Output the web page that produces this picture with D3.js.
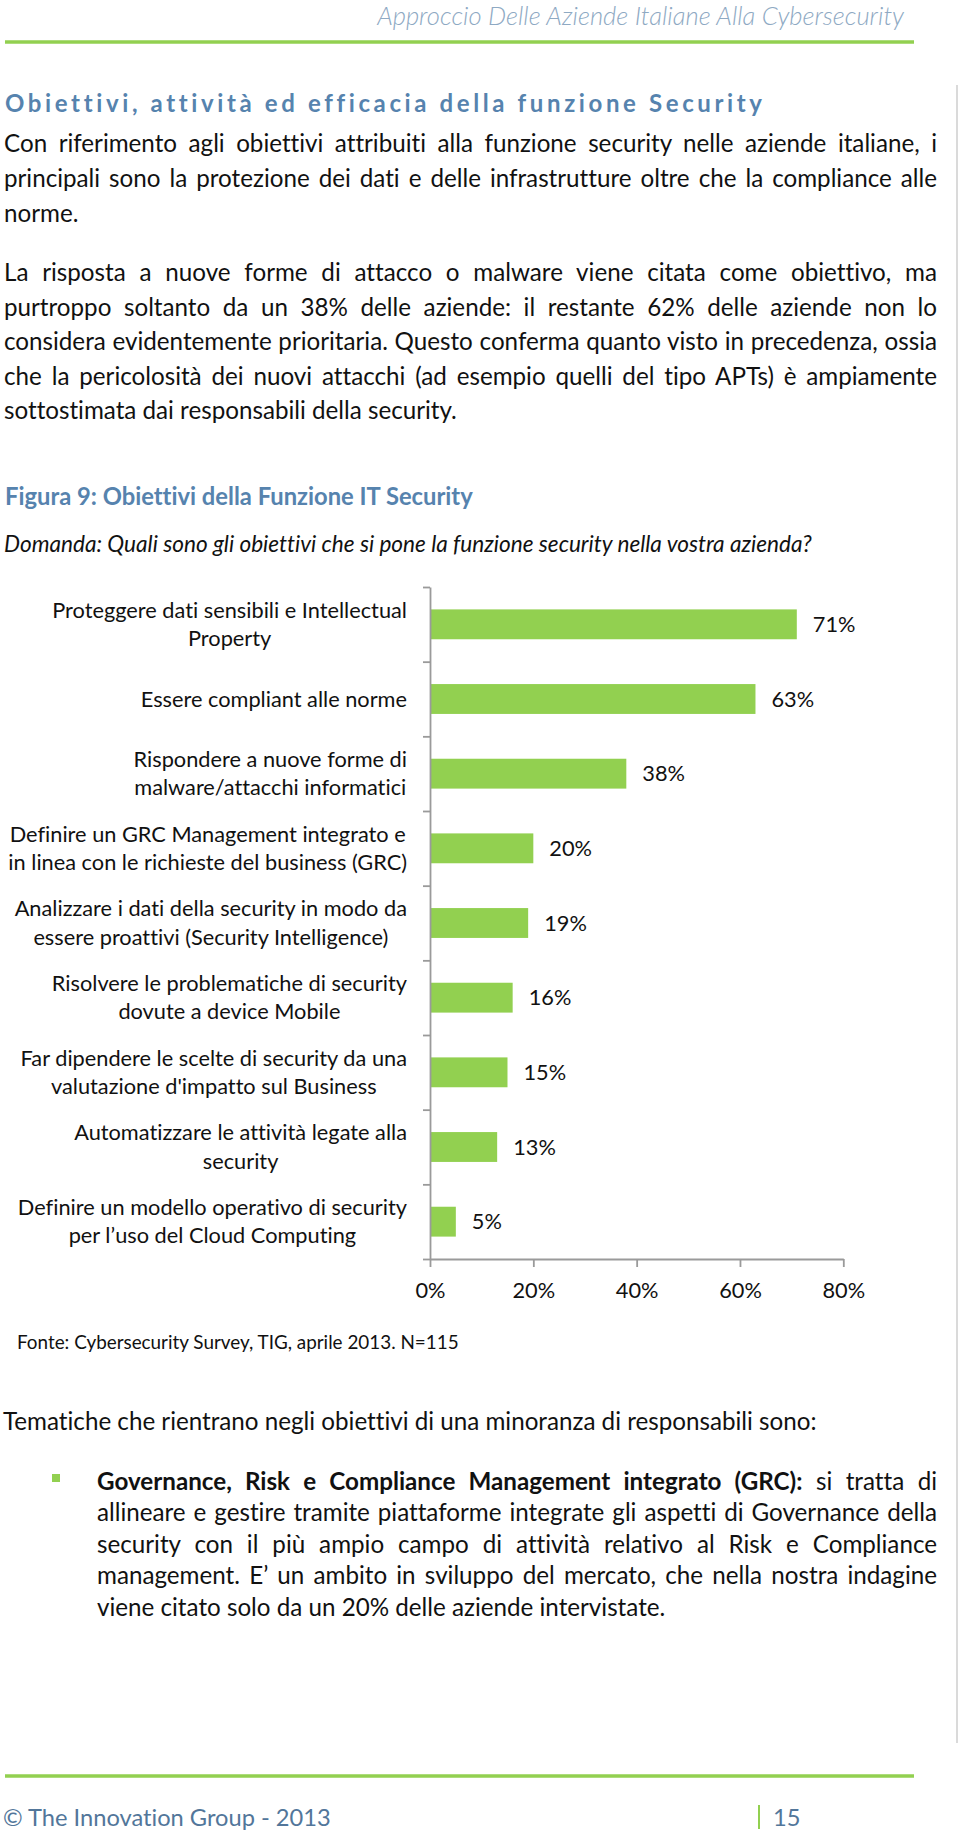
<!DOCTYPE html>
<html>
<head>
<meta charset="utf-8">
<script src="https://cdn.jsdelivr.net/npm/d3@7"></script>
<style>
  html, body { margin: 0; padding: 0; background: #fff; }
  svg { display: block; font-family: Lato, "Open Sans", sans-serif; }
  svg text { font-variant-ligatures: none; font-feature-settings: "liga" 0, "clig" 0; }
</style>
</head>
<body>
<svg id="page" width="960" height="1831"></svg>
<script>
// ---------- DATA ----------
const categories = [
  ["Proteggere dati sensibili e Intellectual", "Property"],
  ["Essere compliant alle norme"],
  ["Rispondere a nuove forme di", "malware/attacchi informatici"],
  ["Definire un GRC Management integrato e", "in linea con le richieste del business (GRC)"],
  ["Analizzare i dati della security in modo da", "essere proattivi (Security Intelligence)"],
  ["Risolvere le problematiche di security", "dovute a device Mobile"],
  ["Far dipendere le scelte di security da una", "valutazione d'impatto sul Business"],
  ["Automatizzare le attività legate alla", "security"],
  ["Definire un modello operativo di security", "per l\u2019uso del Cloud Computing"]
];
const values = [0.71, 0.63, 0.38, 0.20, 0.19, 0.16, 0.15, 0.13, 0.05];
const tickValues = [0, 0.2, 0.4, 0.6, 0.8];

const headerText = "Approccio Delle Aziende Italiane Alla Cybersecurity";
const sectionTitle = "Obiettivi, attività ed efficacia della funzione Security";
const para1 = [
  "Con riferimento agli obiettivi attribuiti alla funzione security nelle aziende italiane, i",
  "principali sono la protezione dei dati e delle infrastrutture oltre che la compliance alle",
  "norme."
];
const para2 = [
  "La risposta a nuove forme di attacco o malware viene citata come obiettivo, ma",
  "purtroppo soltanto da un 38% delle aziende: il restante 62% delle aziende non lo",
  "considera evidentemente prioritaria. Questo conferma quanto visto in precedenza, ossia",
  "che la pericolosità dei nuovi attacchi (ad esempio quelli del tipo APTs) è ampiamente",
  "sottostimata dai responsabili della security."
];
const figTitle = "Figura 9: Obiettivi della Funzione IT Security";
const question = "Domanda: Quali sono gli obiettivi che si pone la funzione security nella vostra azienda?";
const sourceText = "Fonte: Cybersecurity Survey, TIG, aprile 2013. N=115";
const themesText = "Tematiche che rientrano negli obiettivi di una minoranza di responsabili sono:";
const bulletBold = "Governance, Risk e Compliance Management integrato (GRC):";
const bulletLines = [
  " si tratta di",
  "allineare e gestire tramite piattaforme integrate gli aspetti di Governance della",
  "security con il più ampio campo di attività relativo al Risk e Compliance",
  "management. E\u2019 un ambito in sviluppo del mercato, che nella nostra indagine",
  "viene citato solo da un 20% delle aziende intervistate."
];
const footerText = "\u00A9 The Innovation Group - 2013";
const pageNumber = "15";

// ---------- HELPERS ----------
const svg = d3.select("#page");
const measurer = svg.append("text").attr("visibility", "hidden");
function measure(txt, size, weight, style) {
  measurer.attr("font-size", size).attr("font-weight", weight || 400)
    .attr("font-style", style || "normal").text(txt);
  return measurer.node().getComputedTextLength();
}
function fit(txt, target, weight, style) {
  return 100 * target / measure(txt, 100, weight, style);
}
function justify(t, x0, x1) {
  const txt = t.text();
  const w = t.node().getComputedTextLength();
  const n = (txt.match(/ /g) || []).length;
  if (n > 0) t.attr("word-spacing", (x1 - x0 - w) / n);
}

const blue = "#5683ae";
const green = "#92d050";
const axisGray = "#9a9a9a";

// ---------- PAGE FRAME ----------
svg.append("line").attr("x1", 5).attr("x2", 914).attr("y1", 42).attr("y2", 42)
  .attr("stroke", green).attr("stroke-width", 3.5);
svg.append("line").attr("x1", 5).attr("x2", 914).attr("y1", 1776).attr("y2", 1776)
  .attr("stroke", green).attr("stroke-width", 3.5);
svg.append("line").attr("x1", 957).attr("x2", 957).attr("y1", 85).attr("y2", 1743)
  .attr("stroke", "#dadada").attr("stroke-width", 2);

const hs = fit(headerText, 527, 300, "italic");
svg.append("text").attr("x", 904).attr("y", 25).attr("text-anchor", "end")
  .attr("font-size", hs).attr("font-weight", 300).attr("font-style", "italic")
  .attr("fill", "#8ea9c3").text(headerText);

svg.append("text").attr("x", 5).attr("y", 112)
  .attr("font-size", 24).attr("font-weight", 700).attr("fill", blue)
  .attr("textLength", 757).attr("lengthAdjust", "spacing").text(sectionTitle);

// ---------- BODY TEXT ----------
const bodySize = fit(themesText, 814);
const L = 4, R = 937;
para1.forEach((s, i) => {
  const t = svg.append("text").attr("x", L).attr("y", 152 + i * 35)
    .attr("font-size", bodySize).attr("fill", "#111").text(s);
  if (i < para1.length - 1) justify(t, L, R);
});
para2.forEach((s, i) => {
  const t = svg.append("text").attr("x", L).attr("y", 281 + i * 34.5)
    .attr("font-size", bodySize).attr("fill", "#111").text(s);
  if (i < para2.length - 1) justify(t, L, R);
});

const fs = fit(figTitle, 468, 700);
svg.append("text").attr("x", 5).attr("y", 505).attr("font-size", fs)
  .attr("font-weight", 700).attr("fill", blue).text(figTitle);
const qs = fit(question, 808, 400, "italic");
svg.append("text").attr("x", 4).attr("y", 552).attr("font-size", qs)
  .attr("font-style", "italic").attr("fill", "#111").text(question);

// ---------- CHART ----------
const x = d3.scaleLinear().domain([0, 0.8]).range([430, 843.3]);
const y = d3.scaleBand().domain(d3.range(categories.length))
  .range([587, 1259]).paddingInner(0.6).paddingOuter(0.3);
const yb = d3.scaleLinear().domain([0, categories.length]).range([587, 1259]);
const chart = svg.append("g");
const labelSize = fit(categories[0][0], 355);

chart.selectAll("rect.bar").data(values).join("rect").attr("class", "bar")
  .attr("x", x(0)).attr("y", (d, i) => y(i))
  .attr("width", d => x(d) - x(0)).attr("height", y.bandwidth())
  .attr("fill", green);

chart.selectAll("text.val").data(values).join("text").attr("class", "val")
  .attr("x", d => x(d) + 16).attr("y", (d, i) => y(i) + y.bandwidth() / 2)
  .attr("dy", "0.35em").attr("font-size", labelSize).attr("fill", "#111")
  .text(d => Math.round(d * 100) + "%");

const labelRight = 407;
categories.forEach((lines, i) => {
  const widths = lines.map(l => measure(l, labelSize));
  const bw = d3.max(widths);
  const cx = labelRight - bw / 2;
  const cy = y(i) + y.bandwidth() / 2;
  const lh = 28.4;
  lines.forEach((l, j) => {
    const ly = cy + (j - (lines.length - 1) / 2) * lh;
    chart.append("text").attr("x", cx).attr("y", ly).attr("dy", "0.35em")
      .attr("text-anchor", "middle").attr("font-size", labelSize).attr("fill", "#111")
      .text(l);
  });
});

const yAxis = chart.append("g").attr("transform", `translate(${x(0)},0)`)
  .call(d3.axisLeft(yb).tickValues(d3.range(categories.length + 1)).tickSize(7)
    .tickSizeOuter(0).tickFormat(""));
const xAxis = chart.append("g").attr("transform", `translate(0,1259)`)
  .call(d3.axisBottom(x).tickValues(tickValues).tickSize(8).tickSizeOuter(0)
    .tickPadding(16).tickFormat(d3.format(".0%")));
[yAxis, xAxis].forEach(a => {
  a.selectAll("path, line").attr("stroke", axisGray).attr("stroke-width", 1.8);
  a.attr("font-family", null);
});
xAxis.selectAll("text").attr("font-size", labelSize).attr("fill", "#111")
  .attr("dy", "0.35em").attr("y", 31);

// ---------- BELOW CHART ----------
const ss = fit(sourceText, 442);
svg.append("text").attr("x", 17).attr("y", 1349).attr("font-size", ss)
  .attr("fill", "#111").text(sourceText);

svg.append("text").attr("x", 3).attr("y", 1430).attr("font-size", bodySize)
  .attr("fill", "#111").text(themesText);

svg.append("rect").attr("x", 52).attr("y", 1474).attr("width", 8).attr("height", 8)
  .attr("fill", green);
const BL = 97;
bulletLines.forEach((s, i) => {
  const yy = 1490 + i * 31.4;
  let t;
  if (i === 0) {
    t = svg.append("text").attr("x", BL).attr("y", yy).attr("font-size", bodySize).attr("fill", "#111");
    t.append("tspan").attr("font-weight", 700).text(bulletBold);
    t.append("tspan").text(s);
  } else {
    t = svg.append("text").attr("x", BL).attr("y", yy).attr("font-size", bodySize)
      .attr("fill", "#111").text(s);
  }
  if (i < bulletLines.length - 1) justify(t, BL, R);
});

// ---------- FOOTER ----------
const fts = fit(footerText, 328);
svg.append("text").attr("x", 3).attr("y", 1826).attr("font-size", fts)
  .attr("fill", "#52769a").text(footerText);
svg.append("line").attr("x1", 759).attr("x2", 759).attr("y1", 1805).attr("y2", 1829)
  .attr("stroke", green).attr("stroke-width", 2);
svg.append("text").attr("x", 773).attr("y", 1826).attr("font-size", fts)
  .attr("fill", "#52769a").text(pageNumber);
</script>
</body>
</html>
